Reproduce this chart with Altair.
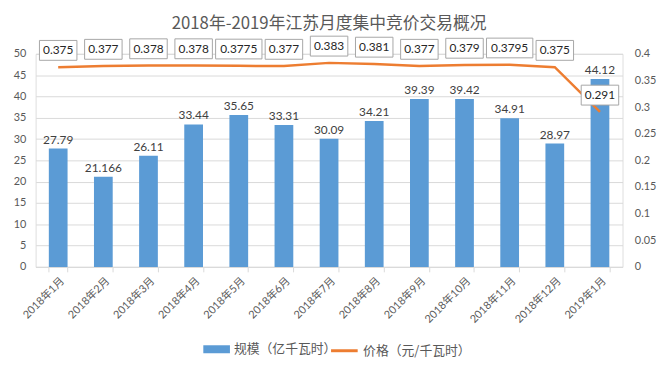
import altair as alt
import pandas as pd

months = ["2018年1月", "2018年2月", "2018年3月", "2018年4月", "2018年5月", "2018年6月",
          "2018年7月", "2018年8月", "2018年9月", "2018年10月", "2018年11月", "2018年12月", "2019年1月"]
volume = [27.79, 21.166, 26.11, 33.44, 35.65, 33.31, 30.09, 34.21, 39.39, 39.42, 34.91, 28.97, 44.12]
volume_labels = ["27.79", "21.166", "26.11", "33.44", "35.65", "33.31", "30.09",
                 "34.21", "39.39", "39.42", "34.91", "28.97", "44.12"]
price = [0.375, 0.377, 0.378, 0.378, 0.3775, 0.377, 0.383, 0.381, 0.377, 0.379, 0.3795, 0.375, 0.291]
price_labels = ["0.375", "0.377", "0.378", "0.378", "0.3775", "0.377", "0.383",
                "0.381", "0.377", "0.379", "0.3795", "0.375", "0.291"]
left_ticks = [0, 5, 10, 15, 20, 25, 30, 35, 40, 45, 50]
right_ticks = [0, 0.05, 0.1, 0.15, 0.2, 0.25, 0.3, 0.35, 0.4]
series_names = ["规模（亿千瓦时）", "价格（元/千瓦时）"]

df = pd.DataFrame({"month": months, "volume": volume, "vlabel": volume_labels,
                   "price": price, "plabel": price_labels})
df["plen"] = df["plabel"].str.len()
df["s_vol"] = series_names[0]
df["s_price"] = series_names[1]

FONT = "Lato, 'Noto Sans CJK SC', sans-serif"
CJK = "'Noto Sans CJK SC', sans-serif"
GRAY = "#595959"

x = alt.X("month:N", sort=months, title=None,
          scale=alt.Scale(paddingInner=0.585, paddingOuter=0.2925),
          axis=alt.Axis(labelAngle=-45, tickBand="extent", domainColor="#D9D9D9",
                        tickColor="#D9D9D9", tickSize=5, labelColor=GRAY, labelFontSize=11,
                        labelFont=FONT, grid=False, labelPadding=3))

yv = alt.Y("volume:Q", scale=alt.Scale(domain=[0, 50], nice=False),
           axis=alt.Axis(values=left_ticks, title=None, grid=True, gridColor="#D9D9D9",
                         domain=False, ticks=False, labelColor=GRAY, labelFontSize=11,
                         labelFont=FONT, labelPadding=10))

yp = alt.Y("price:Q", scale=alt.Scale(domain=[0, 0.4], nice=False),
           axis=alt.Axis(values=right_ticks, orient="right", title=None, grid=False,
                         domain=False, ticks=False, labelColor=GRAY, labelFontSize=11,
                         labelFont=FONT, labelPadding=12, format="~g"))

base = alt.Chart(df)

bars = base.mark_bar().encode(
    x=x, y=yv,
    color=alt.Color("s_vol:N",
                    scale=alt.Scale(domain=[series_names[0]], range=["#5B9BD5"]),
                    legend=alt.Legend(title=None, orient="none", legendX=170, legendY=286,
                                      symbolType="M-1,-0.3H1V0.3H-1Z", symbolSize=729,
                                      labelFontSize=13, labelFont=CJK, labelColor=GRAY,
                                      symbolStrokeWidth=0)),
)
bar_text = base.mark_text(dy=-9, fontSize=12, color="#404040", font=FONT).encode(
    x=x, y=yv, text="vlabel:N")

vol_layer = alt.layer(bars, bar_text)

line = base.mark_line(strokeWidth=2.5).encode(
    x=x, y=yp,
    stroke=alt.Stroke("s_price:N",
                      scale=alt.Scale(domain=[series_names[1]], range=["#ED7D31"]),
                      legend=alt.Legend(title=None, orient="none", legendX=298, legendY=286,
                                        symbolType="stroke", symbolSize=729,
                                        symbolStrokeWidth=3,
                                        labelFontSize=13, labelFont=CJK, labelColor=GRAY)),
)
box5 = base.transform_filter("datum.plen <= 5").mark_point(
    shape="M-1,-0.53H1V0.53H-1Z", size=38 * 38, filled=False, fill="white", fillOpacity=1,
    stroke="#A6A6A6", strokeWidth=1, opacity=1, yOffset=-17).encode(x=x, y=yp)
box6 = base.transform_filter("datum.plen > 5").mark_point(
    shape="M-1,-0.425H1V0.425H-1Z", size=47 * 47, filled=False, fill="white", fillOpacity=1,
    stroke="#A6A6A6", strokeWidth=1, opacity=1, yOffset=-17).encode(x=x, y=yp)
price_text = base.mark_text(dy=-17, fontSize=12, color="#262626", font=FONT).encode(
    x=x, y=yp, text="plabel:N")

price_layer = alt.layer(line, box5, box6, price_text)

chart = alt.layer(vol_layer, price_layer).resolve_scale(y="independent").properties(
    width=595, height=216,
    padding={"top": 5, "left": 5, "right": 5, "bottom": 5},
    title=alt.TitleParams("2018年-2019年江苏月度集中竞价交易概况", fontSize=17, color=GRAY,
                          font=CJK, fontWeight="normal", anchor="middle", offset=1),
).configure_view(stroke=None).configure(background="white")

chart.save("out.html", embed_options={"renderer": "svg", "actions": False})
